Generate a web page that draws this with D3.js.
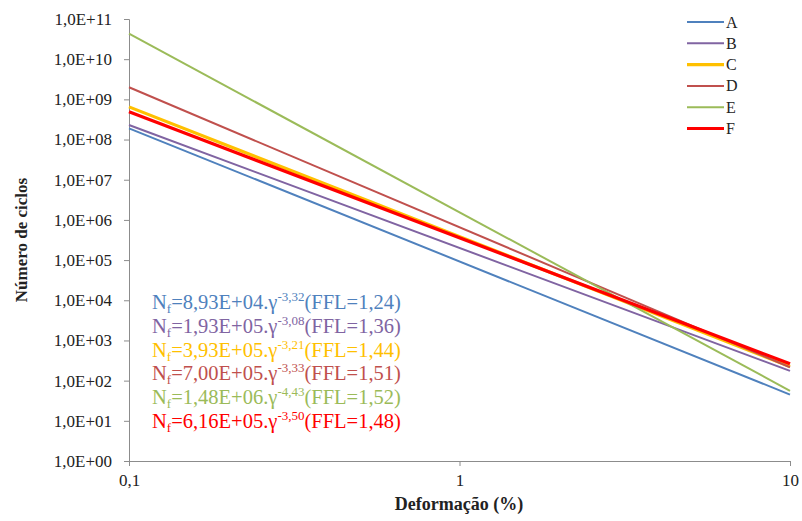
<!DOCTYPE html>
<html><head><meta charset="utf-8">
<script src="https://cdn.jsdelivr.net/npm/d3@7"></script>
<style>body{margin:0;background:#fff}svg{display:block}</style>
</head><body>
<svg id="c" width="802" height="521"></svg>
<script>
const seriesNames = ["A","B","C","D","E","F"];
const xValues = [0.1, 10];
const valuesA = [1.9e8, 45];
const valuesB = [2.3e8, 175];
const valuesC = [6.5e8, 225];
const valuesD = [2.0e9, 215];
const valuesE = [4.3e10, 56];
const valuesF = [4.9e8, 262];
const yTicks = [1e0,1e1,1e2,1e3,1e4,1e5,1e6,1e7,1e8,1e9,1e10,1e11];
const yTickLabels = ["1,0E+00","1,0E+01","1,0E+02","1,0E+03","1,0E+04","1,0E+05","1,0E+06","1,0E+07","1,0E+08","1,0E+09","1,0E+10","1,0E+11"];
const xTicks = [0.1, 1, 10];
const xTickLabels = ["0,1","1","10"];
const eqCoef = ["8,93E+04","1,93E+05","3,93E+05","7,00E+05","1,48E+06","6,16E+05"];
const eqExp = ["-3,32","-3,08","-3,21","-3,33","-4,43","-3,50"];
const eqFFL = ["1,24","1,36","1,44","1,51","1,52","1,48"];

const colors = ["#4F81BD","#8064A2","#FFC000","#C0504D","#9BBB59","#FF0000"];
const widths = [2,2,3.2,2,2,3.2];
const allValues = [valuesA,valuesB,valuesC,valuesD,valuesE,valuesF];

const svg = d3.select("#c");
const font = "Liberation Serif";
const x = d3.scaleLog().domain([0.1,10]).range([129,790]);
const y = d3.scaleLog().domain([1,1e11]).range([461,19]);

const axisColor = "#8c8c8c";
// y axis
const ya = svg.append("g").attr("transform","translate(129,0)")
  .call(d3.axisLeft(y).tickValues(yTicks).tickSize(5).tickFormat((d,i)=>yTickLabels[i]));
ya.attr("font-family",font).attr("font-size",17);
ya.select(".domain").attr("stroke",axisColor);
ya.selectAll(".tick line").attr("stroke",axisColor);
ya.selectAll(".tick text").attr("fill","#222").attr("x",-17);
// x axis
const xa = svg.append("g").attr("transform","translate(0,461)")
  .call(d3.axisBottom(x).tickValues(xTicks).tickSize(5).tickFormat((d,i)=>xTickLabels[i]));
xa.attr("font-family",font).attr("font-size",17);
xa.select(".domain").attr("stroke",axisColor);
xa.selectAll(".tick line").attr("stroke",axisColor);
xa.selectAll(".tick text").attr("fill","#222").attr("y",13);

// lines
const line = d3.line().x(d=>x(d[0])).y(d=>y(d[1]));
allValues.forEach((vals,i)=>{
  svg.append("path").datum(xValues.map((xv,j)=>[xv,vals[j]]))
    .attr("d",line).attr("fill","none").attr("stroke",colors[i]).attr("stroke-width",widths[i]);
});

// legend
seriesNames.forEach((n,i)=>{
  const ly = 22 + i*21.3;
  svg.append("line").attr("x1",687).attr("x2",724).attr("y1",ly).attr("y2",ly)
    .attr("stroke",colors[i]).attr("stroke-width",widths[i]);
  svg.append("text").attr("x",726).attr("y",ly+5.5).attr("font-family",font).attr("font-size",16)
    .attr("fill","#222").text(n);
});

// equations
eqCoef.forEach((c,i)=>{
  const ty = 309 + i*23.8;
  const t = svg.append("text").attr("x",152).attr("y",ty).attr("font-family",font)
    .attr("font-size",20.5).attr("fill",colors[i]);
  t.append("tspan").text("N");
  t.append("tspan").attr("font-size",13).attr("dy",4).text("f");
  t.append("tspan").attr("dy",-4).text("=" + c + ".γ");
  t.append("tspan").attr("font-size",13).attr("dy",-8).text(eqExp[i]);
  t.append("tspan").attr("dy",8).text("(FFL=" + eqFFL[i] + ")");
});

// titles
svg.append("text").attr("x",459).attr("y",510).attr("text-anchor","middle")
  .attr("font-family",font).attr("font-weight","bold").attr("font-size",18).attr("fill","#222")
  .text("Deformação (%)");
svg.append("text").attr("transform","translate(27,240) rotate(-90)").attr("text-anchor","middle")
  .attr("font-family",font).attr("font-weight","bold").attr("font-size",17).attr("fill","#222")
  .text("Número de ciclos");
</script>
</body></html>
